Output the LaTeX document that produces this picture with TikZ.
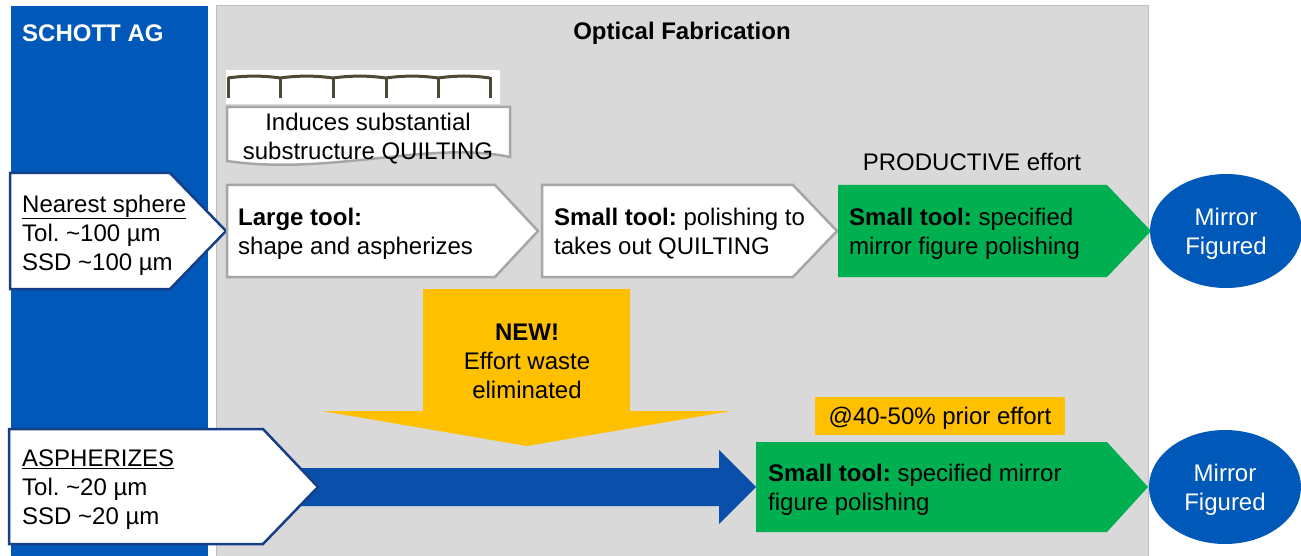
\documentclass[tikz,border=0pt]{standalone}
\usepackage{fontspec}
\setmainfont{Liberation Sans}
\usetikzlibrary{shapes.geometric}
\definecolor{schottblue}{HTML}{0058B8}
\definecolor{arrowblue}{HTML}{0A50AA}
\definecolor{borderblue}{HTML}{173F88}
\definecolor{panelgrey}{HTML}{D9D9D9}
\definecolor{edgegrey}{HTML}{BFBFBF}
\definecolor{boxgrey}{HTML}{A6A6A6}
\definecolor{procgreen}{HTML}{00B050}
\definecolor{effortyellow}{HTML}{FFC000}
\definecolor{quiltolive}{HTML}{4D4933}
\frenchspacing
\begin{document}
\begin{tikzpicture}[x=1pt,y=-1pt,
  txt/.style={font=\fontsize{24}{29}\selectfont, inner sep=0pt, align=left},
  ctxt/.style={font=\fontsize{24}{29}\selectfont, inner sep=0pt, align=center},
  bluebox/.style={fill=white, draw=borderblue, line width=2.5pt, line join=miter},
  greybox/.style={fill=white, draw=boxgrey, line width=2.5pt, line join=miter},
  greenbox/.style={fill=procgreen},
  goal/.style={ellipse, fill=schottblue, minimum width=152pt, minimum height=114pt, inner sep=0pt},
  goaltext/.style={ctxt, text=white},
  quilt/.style={draw=quiltolive, line width=3pt}]
\useasboundingbox (0,0) rectangle (1301,556);
\fill[white] (0,0) rectangle (1301,556);

% company column and fabrication panel
\fill[schottblue] (11,6) rectangle (208,556);
\filldraw[fill=panelgrey, draw=edgegrey, line width=1pt] (216,6) rectangle (1148.5,557);
\node[txt, text=white, anchor=west] (company) at (22,33) {\bfseries SCHOTT AG};
\node[ctxt] (fab) at (682,33) {\bfseries Optical Fabrication};

% quilting sketch
\fill[white] (226,70) rectangle (500,104);
\foreach \a/\b in {228/280,280/333,333/386,386/438,438/490}
  \draw[quilt] (\a,78) .. controls ({\a+(\b-\a)/3},75.5) and ({\a+2*(\b-\a)/3},75.5) .. (\b,78);
\foreach \x in {228,280,333,386,438,490}
  \draw[quilt] (\x,77) -- (\x,98);

% quilting note (document shape)
\draw[greybox] (227,107) -- (510,107) -- (510,157)
  .. controls (430,140) and (330,176) .. (227,161) -- cycle;
\node[ctxt] (quiltnote) at (368,139) {Induces substantial\\substructure QUILTING};

% conventional route
\draw[bluebox] (10,173) -- (170,173) -- (226,231) -- (170,289) -- (10,289) -- cycle;
\node[txt, anchor=west] (nearest) at (22,235) {\underline{Nearest sphere}\\Tol. \textasciitilde100 µm\\SSD \textasciitilde100 µm};

\draw[greybox] (227,185) -- (495,185) -- (538,231) -- (495,277) -- (227,277) -- cycle;
\node[txt, anchor=west] (large) at (238,234) {\textbf{Large tool:}\\shape and aspherizes};

\draw[greybox] (542,185) -- (793,185) -- (837,231) -- (793,277) -- (542,277) -- cycle;
\node[txt, anchor=west] (small) at (554,234) {\textbf{Small tool:} polishing to\\takes out QUILTING};

\fill[greenbox] (838,185) -- (1107,185) -- (1151,231) -- (1107,277) -- (838,277) -- cycle;
\node[txt, anchor=west] (figtop) at (849,234) {\textbf{Small tool:} specified\\mirror figure polishing};
\node[ctxt] (productive) at (972,162) {PRODUCTIVE effort};

\node[goal] (mirrortop) at (1226,231) {};
\node[goaltext] (mirrortoplabel) at ([yshift=-3pt]mirrortop.center) {Mirror\\Figured};

% effort reduction arrow
\fill[effortyellow] (423,289) -- (630,289) -- (630,411) -- (731,411)
  -- (527,446) -- (322,411) -- (423,411) -- cycle;
\node[ctxt] (new) at (527,361) {\textbf{NEW!}\\Effort waste\\eliminated};

% new route
\coordinate (flowstart) at (300,487);
\coordinate (flowend) at (756,487);
\fill[arrowblue] ([yshift=19pt]flowstart) -- (719,468) -- (719,450) -- (flowend)
  -- (719,524) -- (719,506) -- ([yshift=-19pt]flowstart) -- cycle;

\draw[bluebox] (9,429) -- (263,429) -- (318,487) -- (263,544) -- (9,544) -- cycle;
\node[txt, anchor=west] (asph) at (22,490) {\underline{ASPHERIZES}\\Tol. \textasciitilde20 µm\\SSD \textasciitilde20 µm};

\fill[effortyellow] (815,397) rectangle (1065,435);
\node[ctxt] (prior) at (940,418) {@40-50\% prior effort};

\fill[greenbox] (756,442) -- (1107,442) -- (1148,487) -- (1107,532) -- (756,532) -- cycle;
\node[txt, anchor=west] (figbot) at (768,490) {\textbf{Small tool:} specified mirror\\figure polishing};

\node[goal] (mirrorbot) at (1225,487) {};
\node[goaltext] (mirrorbotlabel) at ([yshift=-3pt]mirrorbot.center) {Mirror\\Figured};
\end{tikzpicture}
\end{document}
